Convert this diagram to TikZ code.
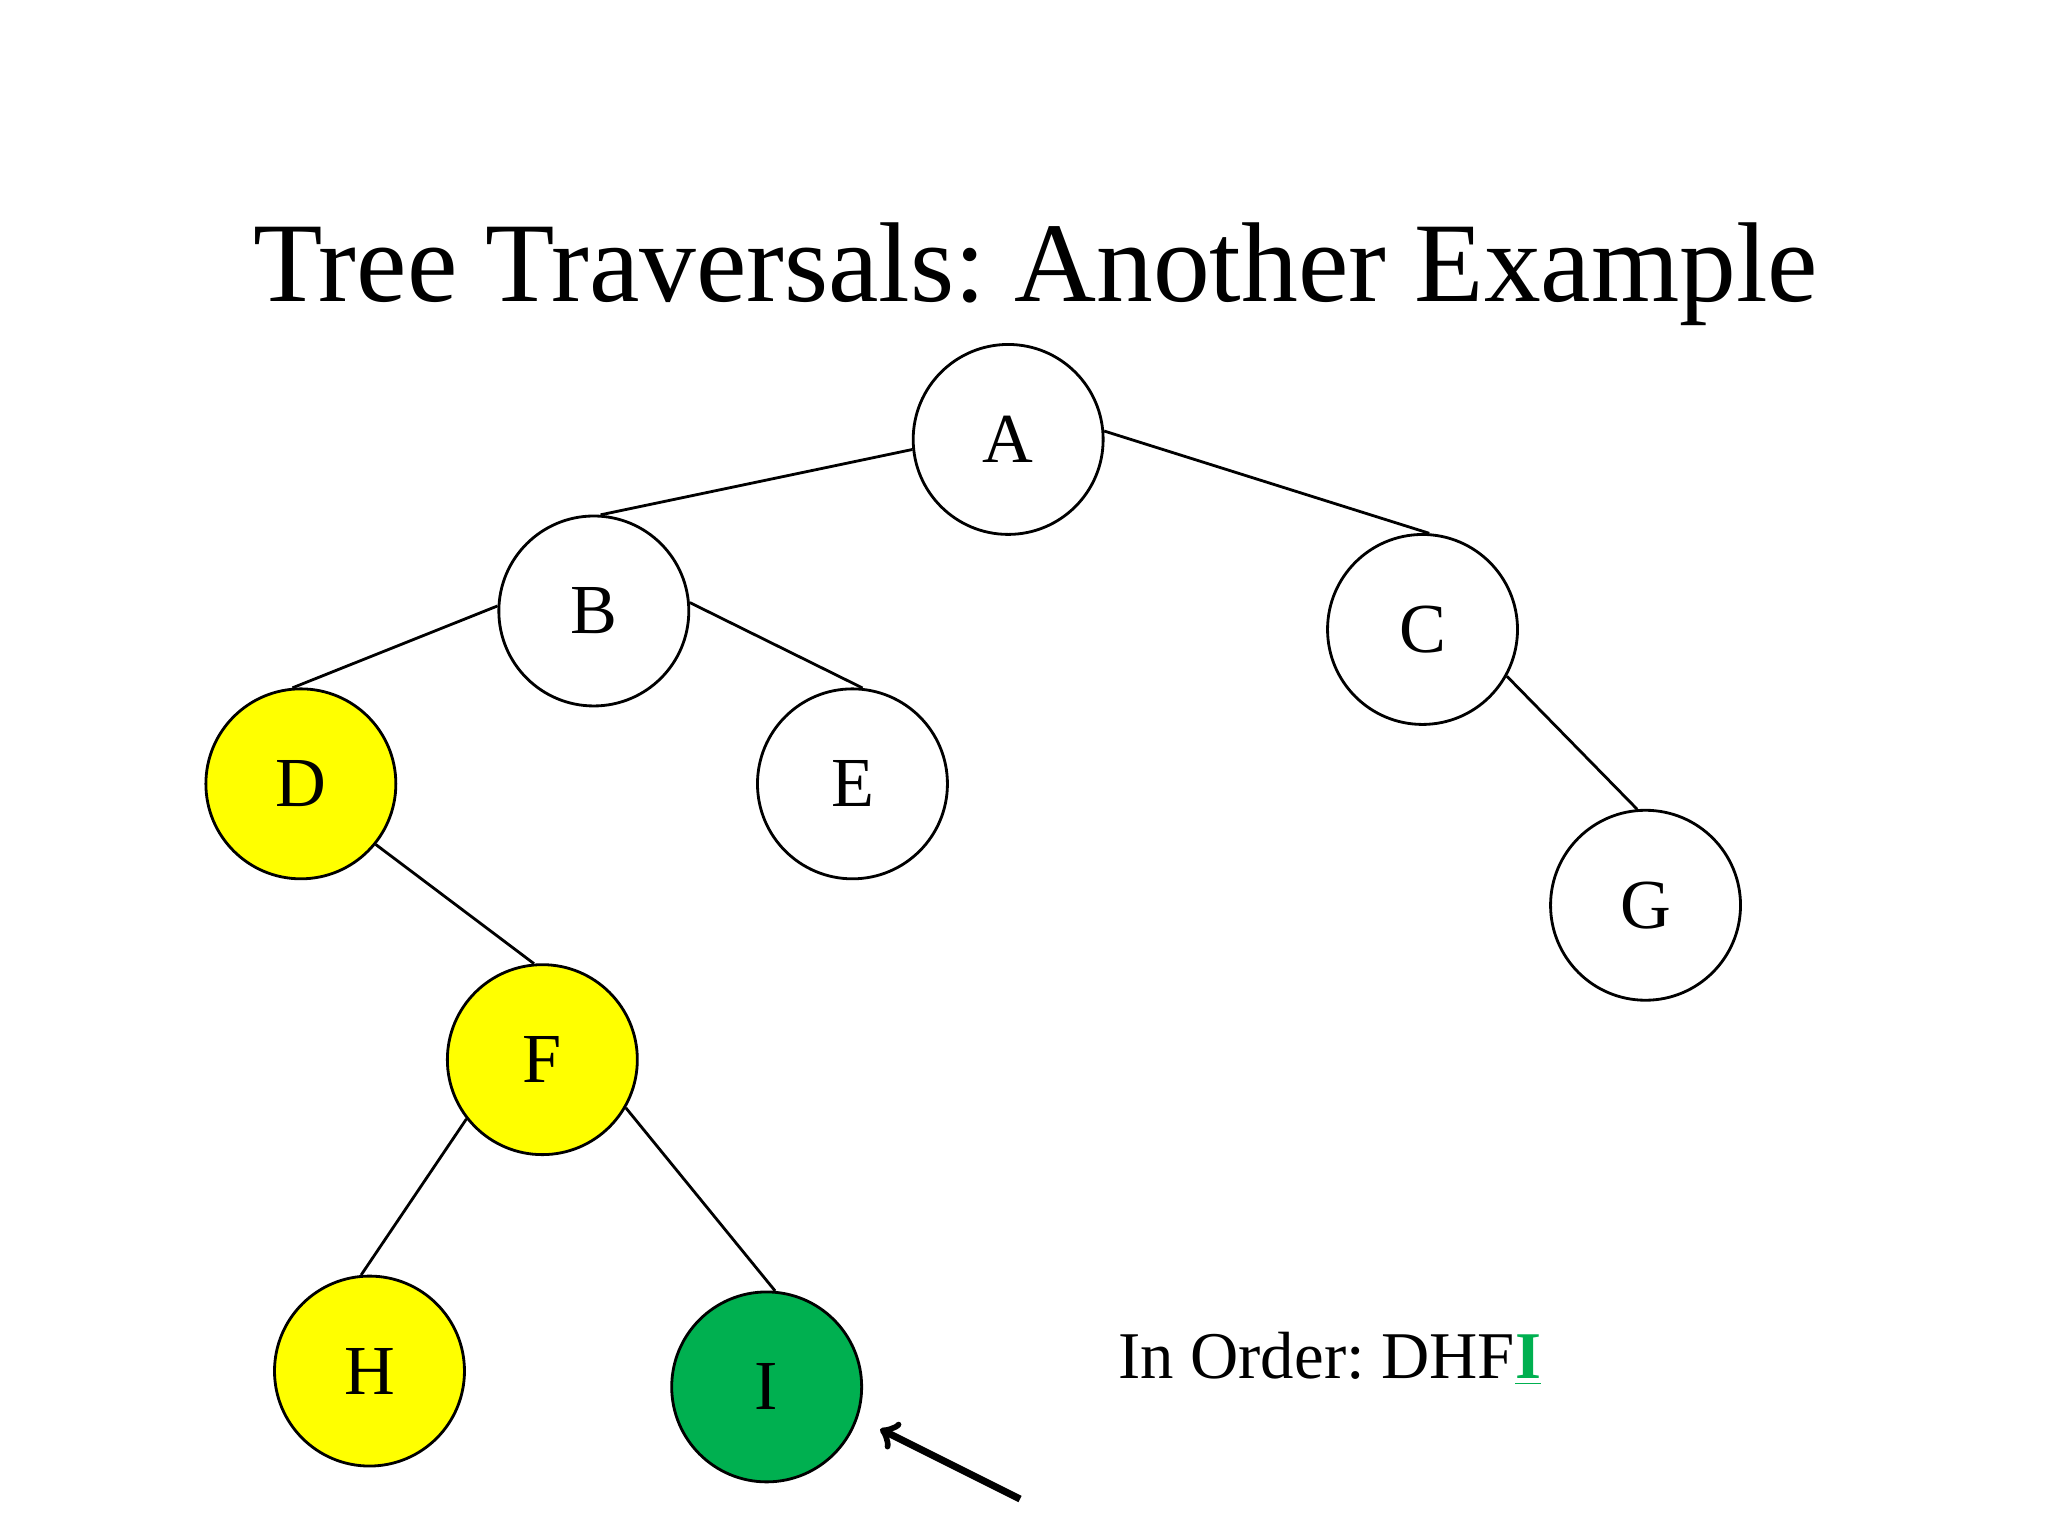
\documentclass[tikz,border=0pt]{standalone}
\usepackage{fontspec}
\setmainfont{Liberation Serif}
\definecolor{ylw}{HTML}{FFFF00}
\definecolor{grn}{HTML}{00B050}
\begin{document}
\begin{tikzpicture}[x=0.013196cm,y=-0.013196cm,
  tn/.style={circle,draw,line width=0.8pt,minimum size=1.9cm,inner sep=0pt,font=\fontsize{20}{24}\selectfont},
  edge/.style={line width=0.8pt}]
\useasboundingbox (0,0) rectangle (1552,1164);
\node at (785,208) {\fontsize{32.3}{38}\selectfont\frenchspacing Tree Traversals: Another Example};
\node[tn] (A) at (764,333) {A};
\node[tn] (B) at (450,463) {B};
\node[tn] (C) at (1078,477) {C};
\node[tn,fill=ylw] (D) at (228,594) {D};
\node[tn] (E) at (646,594) {E};
\node[tn] (G) at (1247,686) {G};
\node[tn,fill=ylw] (F) at (411,803) {F};
\node[tn,fill=ylw] (H) at (280,1039) {H};
\node[tn,fill=grn] (I) at (581,1051) {I};
\draw[edge] (A.186)--(B.86); \draw[edge] (A.5)--(C.86);
\draw[edge] (B.177)--(D.95); \draw[edge] (B.5)--(E.84);
\draw[edge] (C.-29)--(G.95); \draw[edge] (D.-39)--(F.95);
\draw[edge] (F.218)--(H.95); \draw[edge] (F.-30)--(I.85);
\node[anchor=west] (T) at (838,1030) {\fontsize{19}{23}\selectfont\frenchspacing In Order: DHF\textcolor{grn}{\textbf{\underline{I}}}};
\coordinate (s) at (773,1136);
\coordinate (e) at (667,1083);
\draw[line width=2pt,->] (s)--(e);
\end{tikzpicture}
\end{document}
